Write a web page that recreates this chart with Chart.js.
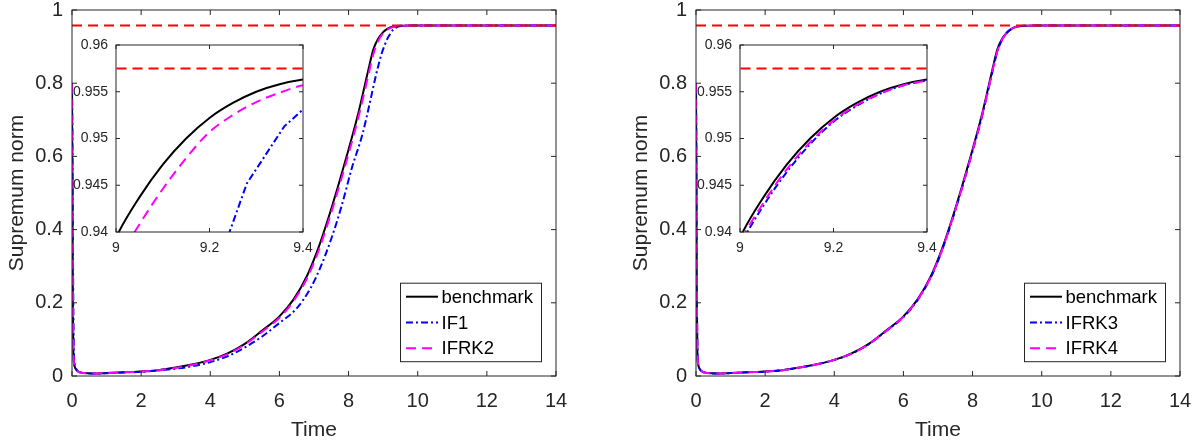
<!DOCTYPE html>
<html>
<head>
<meta charset="utf-8">
<script src="https://cdn.jsdelivr.net/npm/chart.js@4.4.1/dist/chart.umd.min.js"></script>
<style>
    body { margin: 0; background: #fff; }
    #wrap { position: relative; width: 1197px; height: 446px; overflow: hidden; }
    canvas { position: absolute; }
</style>
</head>
<body>
<div id="wrap">
    <canvas id="mainL" width="600" height="446" style="left:0px;top:0px"></canvas>
    <canvas id="insetL" width="248" height="232" style="left:72px;top:30px"></canvas>
    <canvas id="mainR" width="573" height="446" style="left:624px;top:0px"></canvas>
    <canvas id="insetR" width="248" height="232" style="left:696px;top:30px"></canvas>
</div>
<script>
// Времена и значения нормы
const benchT = [0, 0.01, 0.025, 0.04, 0.07, 0.12, 0.2, 0.35, 0.6, 1,
    1.5, 2, 2.5, 3, 3.5, 4, 4.5, 5, 5.5, 6,
    6.4, 6.8, 7.1, 7.4, 7.7, 8, 8.25, 8.45, 8.6, 8.72,
    8.86, 9, 9.05, 9.1, 9.15, 9.2, 9.25, 9.3, 9.35, 9.4,
    9.5, 9.6, 9.8, 10, 14];
const benchV = [0.80, 0.55, 0.20, 0.06, 0.028, 0.017, 0.011, 0.008, 0.007, 0.008,
    0.010, 0.012, 0.016, 0.023, 0.032, 0.044, 0.062, 0.088, 0.124, 0.163,
    0.208, 0.274, 0.343, 0.427, 0.520, 0.619, 0.706, 0.786, 0.848, 0.893,
    0.922, 0.9394, 0.9437, 0.9472, 0.9500, 0.9522, 0.9538, 0.9550, 0.9558, 0.9563,
    0.9568, 0.9571, 0.9574, 0.9575, 0.9575];

// IFRK2 / IFRK3 / IFRK4 на той же сетке, что и benchmark
const ifrk2V = [0.80, 0.62, 0.26, 0.07, 0.03, 0.018, 0.011, 0.008, 0.007, 0.008,
    0.010, 0.012, 0.016, 0.022, 0.031, 0.043, 0.060, 0.086, 0.121, 0.159,
    0.204, 0.267, 0.334, 0.417, 0.509, 0.607, 0.694, 0.772, 0.8335, 0.8805,
    0.916, 0.9365, 0.9408, 0.9446, 0.9479, 0.9507, 0.9525, 0.9539, 0.9549, 0.9557,
    0.9565, 0.9570, 0.9574, 0.9575, 0.9575];
const ifrk3V = [0.80, 0.62, 0.26, 0.08, 0.03, 0.018, 0.011, 0.008, 0.007, 0.008,
    0.010, 0.012, 0.016, 0.023, 0.032, 0.044, 0.061, 0.087, 0.123, 0.161,
    0.206, 0.271, 0.339, 0.4225, 0.515, 0.614, 0.7005, 0.780, 0.842, 0.8875,
    0.9195, 0.9384, 0.9428, 0.9464, 0.9494, 0.9518, 0.9535, 0.9548, 0.9557, 0.9562,
    0.9568, 0.9571, 0.9574, 0.9575, 0.9575];
const ifrk4V = [0.80, 0.60, 0.24, 0.07, 0.029, 0.018, 0.011, 0.008, 0.007, 0.008,
    0.010, 0.012, 0.016, 0.023, 0.032, 0.044, 0.061, 0.087, 0.123, 0.162,
    0.207, 0.272, 0.340, 0.4235, 0.516, 0.615, 0.7015, 0.781, 0.843, 0.888,
    0.920, 0.9388, 0.9431, 0.9467, 0.9496, 0.9519, 0.9536, 0.9548, 0.9557, 0.9562,
    0.9568, 0.9571, 0.9574, 0.9575, 0.9575];

// IF1 считается с крупным шагом, своя сетка
const if1T = [0, 0.01, 0.03, 0.05, 0.08, 0.13, 0.2, 0.35, 0.6, 1,
    1.5, 2, 2.5, 3, 3.5, 4, 4.5, 5, 5.5, 6,
    6.5, 6.9, 7.2, 7.5, 7.8, 8.1, 8.4, 8.6, 8.8, 8.96,
    9.04, 9.12, 9.2, 9.28, 9.36, 9.44, 9.52, 9.6, 9.8, 10, 14];
const if1V = [0.80, 0.68, 0.32, 0.09, 0.032, 0.018, 0.011, 0.008, 0.007, 0.0075,
    0.0095, 0.0115, 0.015, 0.020, 0.027, 0.038, 0.054, 0.078, 0.108, 0.145,
    0.185, 0.24, 0.30, 0.375, 0.465, 0.57, 0.66, 0.74, 0.825, 0.882,
    0.903, 0.921, 0.934, 0.9452, 0.9513, 0.9549, 0.9565, 0.9571, 0.9574, 0.9575, 0.9575];

// Красная пунктирная линия уровня
const refT = [0, 14];
const refV = [0.9575, 0.9575];

// Подписи осей
const mainXTicks = [0, 2, 4, 6, 8, 10, 12, 14];
const mainXLabels = ['0', '2', '4', '6', '8', '10', '12', '14'];
const mainYTicks = [0, 0.2, 0.4, 0.6, 0.8, 1];
const mainYLabels = ['0', '0.2', '0.4', '0.6', '0.8', '1'];
const insetXTicks = [9, 9.2, 9.4];
const insetXLabels = ['9', '9.2', '9.4'];
const insetYTicks = [0.94, 0.945, 0.95, 0.955, 0.96];
const insetYLabels = ['0.94', '0.945', '0.95', '0.955', '0.96'];

const FONT = "'Liberation Sans', Arial, sans-serif";
const AXIS_COLOR = '#262626';

function pts(ts, vs) {
    return ts.map((t, i) => ({ x: t, y: vs[i] }));
}

function line(label, ts, vs, color, dash, order, smooth) {
    return {
        label: label,
        data: pts(ts, vs),
        borderColor: color,
        borderWidth: 2,
        borderDash: dash,
        pointRadius: 0,
        tension: 0,
        cubicInterpolationMode: smooth ? 'monotone' : 'default',
        fill: false,
        order: order
    };
}

// в основном графике всё гладкое, во вставке IF1 остаётся ломаной
function leftDatasets(inset) {
    return [
        line('benchmark', benchT, benchV, '#000000', [], 3, true),
        line('IF1', if1T, if1V, '#0000ff', [7, 3, 2, 3], 2, !inset),
        line('IFRK2', benchT, ifrk2V, '#ff00ff', [10, 6], 1, true),
        line('', refT, refV, '#ff0000', [10, 6], 0, false)
    ];
}

function rightDatasets() {
    return [
        line('benchmark', benchT, benchV, '#000000', [], 3, true),
        line('IFRK3', benchT, ifrk3V, '#0000ff', [7, 3, 2, 3], 2, true),
        line('IFRK4', benchT, ifrk4V, '#ff00ff', [10, 6], 1, true),
        line('', refT, refV, '#ff0000', [10, 6], 0, false)
    ];
}

// Рамка и засечки внутрь, как в MATLAB
const matlabAxes = {
    id: 'matlabAxes',
    beforeDatasetsDraw(chart, args, opts) {
        if (!opts.fill) return;
        const a = chart.chartArea;
        chart.ctx.save();
        chart.ctx.fillStyle = '#ffffff';
        chart.ctx.fillRect(a.left, a.top, a.width, a.height);
        chart.ctx.restore();
    },
    afterDatasetsDraw(chart, args, opts) {
        const { ctx, chartArea: a, scales: { x, y } } = chart;
        const L = opts.tick || 5;
        ctx.save();
        ctx.strokeStyle = AXIS_COLOR;
        ctx.lineWidth = 1;
        ctx.setLineDash([]);
        ctx.beginPath();
        x.ticks.forEach(t => {
            const px = x.getPixelForValue(t.value);
            ctx.moveTo(px, a.bottom); ctx.lineTo(px, a.bottom - L);
            ctx.moveTo(px, a.top); ctx.lineTo(px, a.top + L);
        });
        y.ticks.forEach(t => {
            const py = y.getPixelForValue(t.value);
            ctx.moveTo(a.left, py); ctx.lineTo(a.left + L, py);
            ctx.moveTo(a.right, py); ctx.lineTo(a.right - L, py);
        });
        ctx.stroke();
        ctx.strokeRect(a.left, a.top, a.width, a.height);
        ctx.restore();
    }
};

// Легенда в рамке в правом нижнем углу
const boxLegend = {
    id: 'boxLegend',
    afterDatasetsDraw(chart, args, opts) {
        if (!opts.show) return;
        const { ctx, chartArea: a } = chart;
        const w = 141, h = 78.5;
        const left = a.right - 14.5 - w;
        const top = a.bottom - 14.3 - h;
        ctx.save();
        ctx.fillStyle = '#ffffff';
        ctx.fillRect(left, top, w, h);
        ctx.strokeStyle = AXIS_COLOR;
        ctx.lineWidth = 1;
        ctx.strokeRect(left, top, w, h);
        ctx.font = '18.5px ' + FONT;
        ctx.textBaseline = 'middle';
        [0, 1, 2].forEach((idx, row) => {
            const ds = chart.data.datasets[idx];
            const cy = top + 13.5 + row * 25.8;
            ctx.strokeStyle = ds.borderColor;
            ctx.lineWidth = 2;
            ctx.setLineDash(ds.borderDash);
            ctx.beginPath();
            ctx.moveTo(left + 5.5, cy);
            ctx.lineTo(left + 37.5, cy);
            ctx.stroke();
            ctx.setLineDash([]);
            ctx.fillStyle = '#000000';
            ctx.fillText(ds.label, left + 41, cy + 1);
        });
        ctx.restore();
    }
};

function zeroPad(scale) {
    scale.paddingTop = 0;
    scale.paddingBottom = 0;
    scale.paddingLeft = 0;
    scale.paddingRight = 0;
}

function makeScales(cfg) {
    return {
        x: {
            type: 'linear',
            min: cfg.xTicks[0],
            max: cfg.xTicks[cfg.xTicks.length - 1],
            grid: { display: false, drawTicks: false },
            border: { display: false },
            afterBuildTicks: s => { s.ticks = cfg.xTicks.map(v => ({ value: v })); },
            afterFit: s => { s.height = cfg.xHeight; zeroPad(s); },
            ticks: {
                color: AXIS_COLOR,
                font: { family: FONT, size: cfg.tickSize },
                padding: cfg.xPad,
                maxRotation: 0,
                autoSkip: false,
                callback: (v, i) => cfg.xLabels[i]
            },
            title: cfg.xTitle ? {
                display: true,
                text: cfg.xTitle,
                color: AXIS_COLOR,
                font: { family: FONT, size: 21 },
                padding: { top: 0, bottom: 3 }
            } : { display: false }
        },
        y: {
            type: 'linear',
            min: cfg.yTicks[0],
            max: cfg.yTicks[cfg.yTicks.length - 1],
            grid: { display: false, drawTicks: false },
            border: { display: false },
            afterBuildTicks: s => { s.ticks = cfg.yTicks.map(v => ({ value: v })); },
            afterFit: s => { s.width = cfg.yWidth; zeroPad(s); },
            ticks: {
                color: AXIS_COLOR,
                font: { family: FONT, size: cfg.tickSize },
                padding: cfg.yPad,
                autoSkip: false,
                callback: (v, i) => cfg.yLabels[i]
            },
            title: cfg.yTitle ? {
                display: true,
                text: cfg.yTitle,
                color: AXIS_COLOR,
                font: { family: FONT, size: 21 },
                padding: { top: 5, bottom: 0 }
            } : { display: false }
        }
    };
}

function mainChart(canvasId, datasets, rightPad) {
    return new Chart(document.getElementById(canvasId), {
        type: 'line',
        data: { datasets: datasets },
        options: {
            responsive: false,
            animation: false,
            devicePixelRatio: 1,
            layout: { padding: { top: 10, right: rightPad, left: 0, bottom: 0 } },
            plugins: {
                legend: { display: false },
                tooltip: { enabled: false },
                matlabAxes: { tick: 5 },
                boxLegend: { show: true }
            },
            scales: makeScales({
                xTicks: mainXTicks, xLabels: mainXLabels,
                yTicks: mainYTicks, yLabels: mainYLabels,
                xHeight: 70, yWidth: 72, tickSize: 20,
                xPad: 13, yPad: 9,
                xTitle: 'Time', yTitle: 'Supremum norm'
            })
        },
        plugins: [matlabAxes, boxLegend]
    });
}

function insetChart(canvasId, datasets) {
    return new Chart(document.getElementById(canvasId), {
        type: 'line',
        data: { datasets: datasets },
        options: {
            responsive: false,
            animation: false,
            devicePixelRatio: 1,
            layout: { padding: { top: 15, right: 17, left: 0, bottom: 0 } },
            plugins: {
                legend: { display: false },
                tooltip: { enabled: false },
                matlabAxes: { tick: 4, fill: true },
                boxLegend: { show: false }
            },
            scales: makeScales({
                xTicks: insetXTicks, xLabels: insetXLabels,
                yTicks: insetYTicks, yLabels: insetYLabels,
                xHeight: 30, yWidth: 44, tickSize: 14,
                xPad: 8, yPad: 8
            })
        },
        plugins: [matlabAxes, boxLegend]
    });
}

mainChart('mainL', leftDatasets(false), 44);
insetChart('insetL', leftDatasets(true));
mainChart('mainR', rightDatasets(), 17);
insetChart('insetR', rightDatasets());
</script>
</body>
</html>
